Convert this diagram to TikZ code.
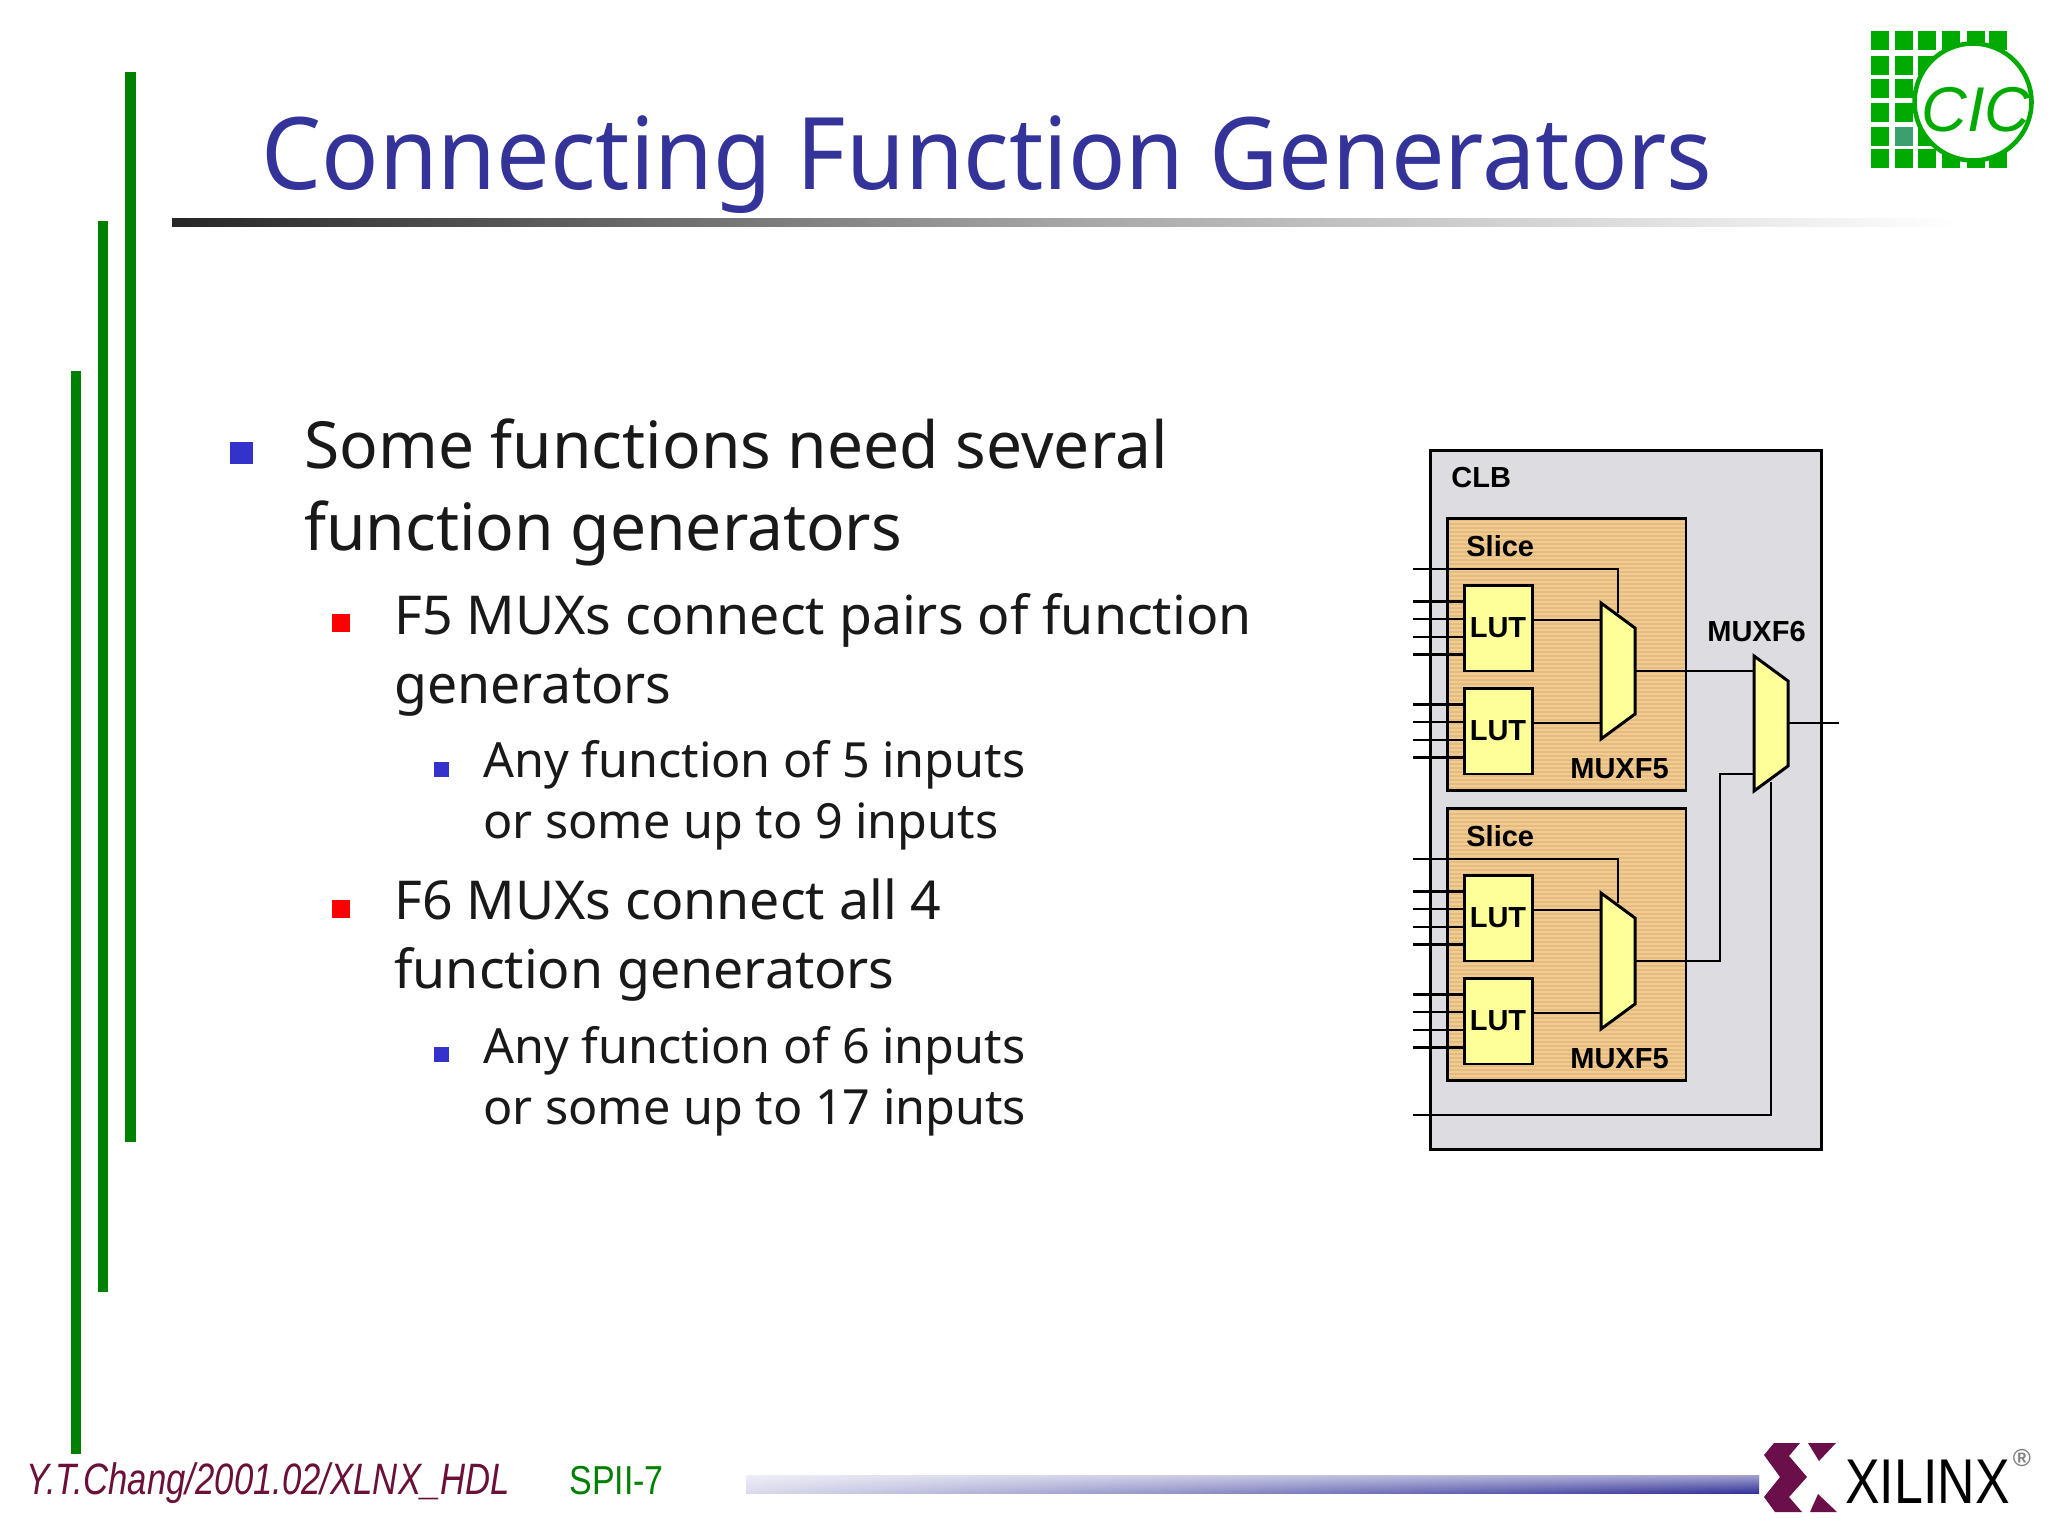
\documentclass[tikz,border=0pt]{standalone}
\usepackage{fontspec}
\usetikzlibrary{fadings}
\setmainfont{Noto Sans}
\newfontfamily\titlefont[FakeStretch=0.95]{Noto Sans}
\newfontfamily\bigfont[FakeStretch=0.985]{Noto Sans}
\newfontfamily\labelfont{Liberation Sans}
\newfontfamily\footfont[FakeStretch=0.79]{Liberation Sans}
\newfontfamily\pagefont[FakeStretch=0.84]{Liberation Sans}
\newfontfamily\logofont[FakeStretch=0.82]{Liberation Sans}
\definecolor{titleblue}{RGB}{51,51,153}
\definecolor{bulletblue}{RGB}{51,51,204}
\definecolor{bargreen}{RGB}{0,128,0}
\definecolor{logogreen}{RGB}{0,170,0}
\definecolor{logoteal}{RGB}{60,160,110}
\definecolor{footred}{RGB}{107,16,56}
\definecolor{sigmared}{RGB}{107,15,74}
\definecolor{clbgray}{RGB}{221,221,225}
\definecolor{sliceorange}{RGB}{240,203,150}
\definecolor{slicestripe}{RGB}{230,188,124}
\definecolor{lutyellow}{RGB}{255,255,153}
\tikzset{
    x=0.02cm, y=-0.02cm,
    bar/.style={fill=bargreen, draw=none},
    bigtext/.style={anchor=base west, inner sep=0pt, text=black!90, font=\bigfont\fontsize{37}{37}\selectfont},
    midtext/.style={anchor=base west, inner sep=0pt, text=black!90, font=\fontsize{30.5}{30}\selectfont},
    smalltext/.style={anchor=base west, inner sep=0pt, text=black!90, font=\fontsize{27.6}{27}\selectfont},
    bluebullet/.style={fill=bulletblue, inner sep=0pt, minimum size=0.46cm},
    redbullet/.style={fill=red, inner sep=0pt, minimum size=0.36cm},
    tinybullet/.style={fill=bulletblue, inner sep=0pt, minimum size=0.3cm},
    clbbox/.style={draw, line width=1.7pt, fill=clbgray},
    slicebox/.style={draw, line width=1.7pt},
    lutbox/.style={draw, line width=1.7pt, fill=lutyellow, minimum width=1.36cm, minimum height=1.72cm, inner sep=0pt,
        font=\labelfont\bfseries\fontsize{16.5}{16}\selectfont},
    muxshape/.style={draw, line width=1.7pt, fill=lutyellow, line join=miter},
    blocklabel/.style={anchor=base west, inner sep=0pt, font=\labelfont\bfseries\fontsize{16.5}{16}\selectfont},
    wire/.style={line width=1.4pt},
    logosq/.style={fill=logogreen, draw=none},
}
\begin{document}
\begin{tikzpicture}
    \useasboundingbox (0,0) rectangle (2048,1530);
    \fill[white] (0,0) rectangle (2048,1530);

    % green bars on the left
    \fill[bar] (125,72) rectangle (136,1142);
    \fill[bar] (98,221) rectangle (108,1292);
    \fill[bar] (71,371) rectangle (81,1454);

    % title and its rule
    \node (title) [anchor=base west, inner sep=0pt, text=titleblue, font=\titlefont\fontsize{57}{57}\selectfont] at (261,190) {Connecting Function Generators};
    \shade[left color=black!85, right color=white, middle color=black!35] (172,219) rectangle (1960,227);

    % CIC logo
    \foreach \cx in {1871,1895,1918,1942,1967,1989}
        \foreach \cy in {31,56,79,103,127,149}
            \fill[logosq] (\cx,\cy) rectangle +(18,19);
    \fill[logoteal] (1895,127) rectangle +(18,19);
    \node (ciccircle) [circle, draw=logogreen, fill=white, line width=2.6pt, minimum size=2.34cm, inner sep=0pt] at (1973,102) {};
    \node (cic) [text=logogreen, inner sep=0pt, font=\labelfont\itshape\fontsize{36}{36}\selectfont] at (1976,110) {CIC};

    % bullet text
    \node (b1) [bluebullet] at (241.5,453) {};
    \node (t1a) [bigtext] at (304,469) {Some functions need several};
    \node (t1b) [bigtext] at (304,550) {function generators};
    \node (b2) [redbullet] at (341,623) {};
    \node (t2a) [midtext] at (394,634.5) {F5 MUXs connect pairs of function};
    \node (t2b) [midtext] at (394,703.5) {generators};
    \node (b3) [tinybullet] at (441.5,769) {};
    \node (t3a) [smalltext] at (483,777.5) {Any function of 5 inputs};
    \node (t3b) [smalltext] at (483,838.5) {or some up to 9 inputs};
    \node (b4) [redbullet] at (341,909) {};
    \node (t4a) [midtext] at (394,919.5) {F6 MUXs connect all 4};
    \node (t4b) [midtext] at (394,988.5) {function generators};
    \node (b5) [tinybullet] at (441.5,1054) {};
    \node (t5a) [smalltext] at (483,1063.5) {Any function of 6 inputs};
    \node (t5b) [smalltext] at (483,1124.5) {or some up to 17 inputs};

    % CLB and slices
    \node (clb) [clbbox, minimum width=7.84cm, minimum height=14cm, inner sep=0pt] at (1626,800) {};
    \node (clblabel) [blocklabel] at (1451,487.5) {CLB};
    \fill[sliceorange] (1447,518) rectangle (1686,791);
    \fill[sliceorange] (1447,808) rectangle (1686,1081);
    \foreach \sy in {520,524,...,790}
        \draw[slicestripe, line width=0.6pt] (1448,\sy) -- (1685,\sy);
    \foreach \sy in {810,814,...,1080}
        \draw[slicestripe, line width=0.6pt] (1448,\sy) -- (1685,\sy);
    \node (slicea) [slicebox, minimum width=4.78cm, minimum height=5.46cm, inner sep=0pt] at (1566.5,654.5) {};
    \node (sliceb) [slicebox, minimum width=4.78cm, minimum height=5.46cm, inner sep=0pt] at (1566.5,944.5) {};
    \node (slicelabela) [blocklabel] at (1466,556) {Slice};
    \node (slicelabelb) [blocklabel] at (1466,846) {Slice};

    % LUTs
    \node (luta) [lutbox] at (1498,628) {\raisebox{-1.1pt}{LUT}};
    \node (lutb) [lutbox] at (1498,731) {\raisebox{-1.1pt}{LUT}};
    \node (lutc) [lutbox] at (1498,918) {\raisebox{-1.1pt}{LUT}};
    \node (lutd) [lutbox] at (1498,1021) {\raisebox{-1.1pt}{LUT}};

    % free ends on the left
    \foreach \lut in {luta,lutb,lutc,lutd}
        \foreach \frac in {0.2,0.4,0.6,0.8} {
            \path (\lut.north west) -- (\lut.south west) coordinate[pos=\frac] (pin);
            \draw[wire] (pin) -- (pin -| 1413,0);
        }

    % MUXes
    \coordinate (muxatop) at (1601,603);
    \coordinate (muxabot) at (1601,739);
    \coordinate (muxaout) at (1635,671);
    \draw[muxshape] (muxatop) -- (1635,628) -- (1635,714) -- (muxabot) -- cycle;
    \coordinate (muxbtop) at (1601,893);
    \coordinate (muxbbot) at (1601,1029);
    \coordinate (muxbout) at (1635,961);
    \draw[muxshape] (muxbtop) -- (1635,918) -- (1635,1004) -- (muxbbot) -- cycle;
    \coordinate (muxctop) at (1754,656);
    \coordinate (muxcbot) at (1754,791);
    \coordinate (muxcout) at (1788,723);
    \draw[muxshape] (muxctop) -- (1788,681) -- (1788,766) -- (muxcbot) -- cycle;

    \node (muxlabela) [blocklabel] at (1570,778) {MUXF5};
    \node (muxlabelb) [blocklabel] at (1570,1068) {MUXF5};
    \node (muxlabelc) [blocklabel] at (1707,641) {MUXF6};

    % wires between the blocks
    \coordinate (selafree) at (1413,569);
    \coordinate (selbfree) at (1413,859);
    \coordinate (selcfree) at (1413,1115);
    \coordinate (outfree) at (1839,723);
    \coordinate (selaend) at (1618,613);
    \coordinate (selbend) at (1618,903);
    \coordinate (selcend) at (1771,782);
    \draw[wire] (selafree) -- (selafree -| selaend) -- (selaend);
    \draw[wire] (selbfree) -- (selbfree -| selbend) -- (selbend);
    \draw[wire] (selcfree) -- (selcfree -| selcend) -- (selcend);
    \draw[wire] (luta.east |- 0,620) -- (1601,620);
    \draw[wire] (lutb.east |- 0,723) -- (1601,723);
    \draw[wire] (lutc.east |- 0,910) -- (1601,910);
    \draw[wire] (lutd.east |- 0,1013) -- (1601,1013);
    \draw[wire] (muxaout) -- (muxaout -| muxctop);
    \draw[wire] (muxbout) -- (1720,961) -- (1720,774) -- (1754,774);
    \draw[wire] (muxcout) -- (outfree);

    % footer
    \node (author) [anchor=base west, inner sep=0pt, text=footred, font=\footfont\itshape\fontsize{25}{25}\selectfont] at (26,1494) {Y.T.Chang/2001.02/XLNX\_HDL};
    \node (page) [anchor=base west, inner sep=0pt, text=bargreen, font=\pagefont\fontsize{23}{23}\selectfont] at (569,1494) {SPII-7};
    \shade[left color=titleblue!18, middle color=titleblue!50, right color=titleblue] (746,1475) rectangle (1759,1493);
    \fill[white, path fading=south, fill opacity=0.55] (746,1475) rectangle (1759,1493);

    % Xilinx logo
    \fill[sigmared] (1774,1443) -- (1800,1443) -- (1789,1456) -- (1807,1477) -- (1789,1497) -- (1802,1512) -- (1775,1512) -- (1764,1497) -- (1780,1477) -- (1764,1455) -- cycle;
    \fill[sigmared] (1808,1443) -- (1836,1443) -- (1819,1461) -- cycle;
    \fill[sigmared] (1818,1494) -- (1837,1512) -- (1810,1512) -- cycle;
    \node (xilinx) [anchor=base west, inner sep=0pt, font=\logofont\fontsize{36}{36}\selectfont] at (1845,1503) {XILINX};
    \node (regmark) [text=black!50, inner sep=0pt, font=\labelfont\bfseries\fontsize{14}{14}\selectfont] at (2022,1458) {®};
\end{tikzpicture}
\end{document}
